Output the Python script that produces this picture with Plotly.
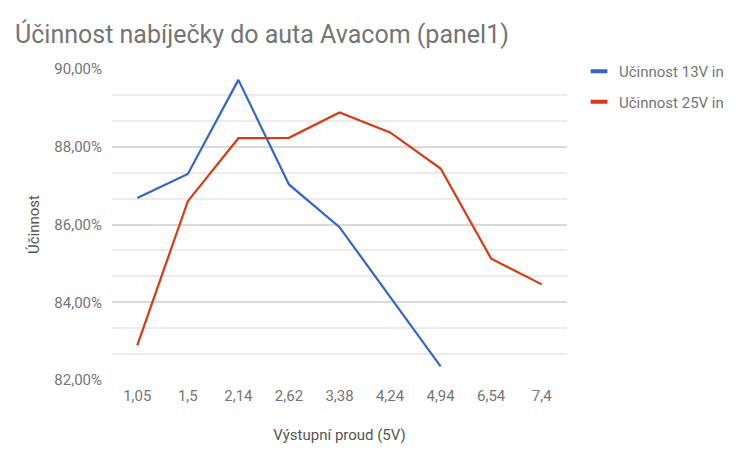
import plotly.graph_objects as go

categories = ["1,05", "1,5", "2,14", "2,62", "3,38", "4,24", "4,94", "6,54", "7,4"]
eff_13v = [86.68, 87.30, 89.72, 87.03, 85.93, 84.15, 82.35, None, None]
eff_25v = [82.89, 86.60, 88.22, 88.23, 88.88, 88.37, 87.44, 85.12, 84.46]
series_names = ["Učinnost 13V in", "Učinnost 25V in"]
colors = ["#3366cc", "#dc3912"]

FONT = "Roboto"
GRAY = "#757575"

# page body has an 8px default margin, so the figure is 8px smaller
W, H = 733, 452

fig = go.Figure()
for name, vals, col in zip(series_names, [eff_13v, eff_25v], colors):
    fig.add_trace(go.Scatter(x=categories, y=vals, mode="lines", name=name,
                             line=dict(color=col, width=2.2), showlegend=False,
                             legendgroup=name, connectgaps=False))
for name, col in zip(series_names, colors):
    fig.add_trace(go.Scatter(x=[None], y=[None], mode="markers", name=name,
                             marker=dict(symbol="line-ew", size=12, color=col,
                                         line=dict(color=col, width=4)),
                             legendgroup=name, showlegend=True))

fig.update_layout(
    width=W, height=H,
    margin=dict(l=104, r=174, t=61, b=80, autoexpand=False),
    paper_bgcolor="white", plot_bgcolor="white",
    separators=", ",
    font=dict(family=FONT, size=15, color=GRAY),
    title=dict(text="Účinnost nabíječky do auta Avacom (panel1)",
               x=7/W, xanchor="left", y=1-26/H, yanchor="middle",
               font=dict(family=FONT, size=25, color=GRAY)),
    legend=dict(x=(579-112)/455, xanchor="left", y=1.045, yanchor="top",
                font=dict(family=FONT, size=15, color=GRAY),
                tracegroupgap=8, itemwidth=30),
    xaxis=dict(type="category", range=[-0.5, 8.5], showgrid=False, zeroline=False,
               showline=False, ticks="outside", ticklen=2, tickcolor="white",
               tickfont=dict(size=15, color=GRAY),
               title=dict(text="Výstupní proud (5V)", standoff=25,
                          font=dict(size=15, color="#555555"))),
    yaxis=dict(range=[82, 90], dtick=2, tick0=82, ticksuffix="%", tickformat=".2f",
               showgrid=True, gridcolor="#d9d9d9", gridwidth=1.5, zeroline=False,
               showline=False, ticks="outside", ticklen=6, tickcolor="white",
               tickfont=dict(size=15, color=GRAY),
               minor=dict(dtick=2/3, tick0=82, showgrid=True, gridcolor="#ececec", gridwidth=1.5),
               title=dict(text="Účinnost", standoff=11,
                          font=dict(size=15, color="#555555"))),
)

fig.write_html("out.html")
